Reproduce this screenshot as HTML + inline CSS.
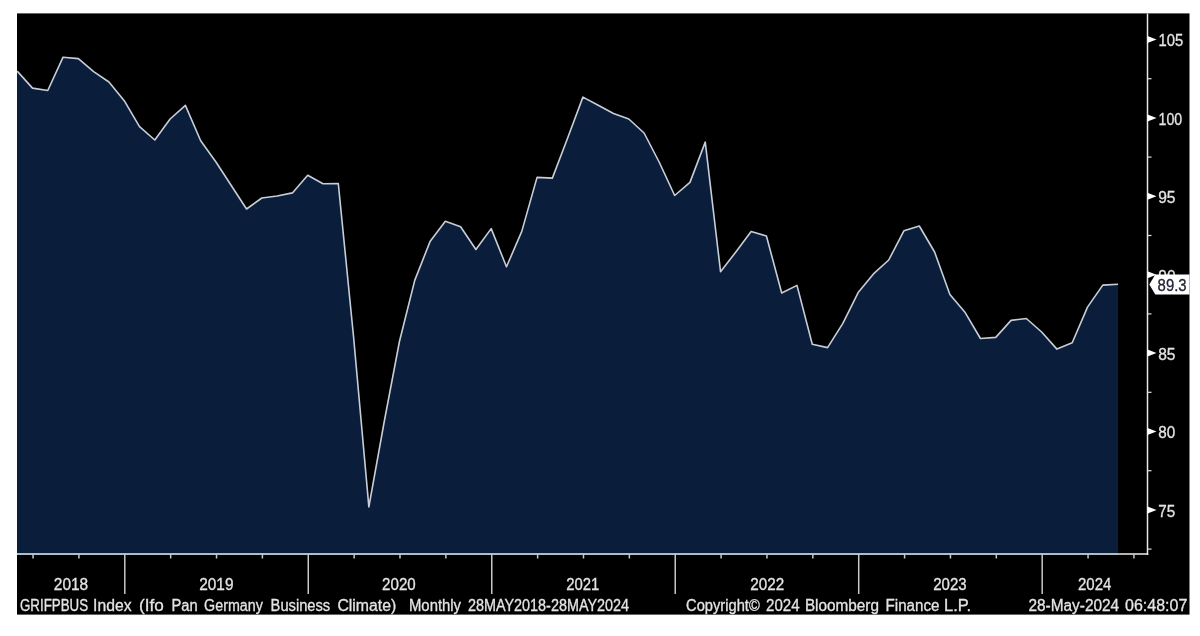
<!DOCTYPE html>
<html><head><meta charset="utf-8"><style>
html,body{margin:0;padding:0;background:#fff;width:1200px;height:636px;overflow:hidden}
svg{display:block;filter:blur(0.45px)}
.t{font-family:"Liberation Sans",sans-serif;font-size:16px;fill:#e4e4e4;stroke:#e4e4e4;stroke-width:0.3px}
</style></head><body>
<svg width="1200" height="636" viewBox="0 0 1200 636">
<rect x="17" y="13.4" width="1172.5" height="601.2" fill="#000"/>
<path d="M17,553 L17,71.10 L17.20,71.10 L32.49,88.10 L47.78,90.50 L63.07,57.20 L78.36,58.60 L93.65,71.60 L108.94,82.00 L124.23,100.70 L139.52,126.60 L154.81,140.00 L170.10,119.00 L185.39,105.40 L200.68,140.70 L215.97,162.00 L231.26,185.50 L246.55,209.00 L261.84,198.00 L277.13,196.00 L292.42,192.90 L307.71,175.30 L323.00,183.80 L338.29,183.50 L353.58,337.00 L368.87,506.90 L384.16,422.00 L399.45,341.50 L414.74,280.40 L430.03,241.60 L445.32,221.20 L460.61,226.70 L475.90,249.50 L491.19,228.60 L506.48,266.80 L521.77,231.40 L537.06,177.40 L552.35,178.10 L567.64,138.00 L582.93,97.10 L598.22,105.30 L613.51,113.50 L628.80,119.00 L644.09,133.00 L659.38,162.50 L674.67,195.50 L689.96,182.40 L705.25,142.10 L720.54,271.70 L735.83,252.00 L751.12,231.60 L766.41,236.00 L781.70,293.00 L796.99,285.40 L812.28,344.30 L827.57,347.60 L842.86,323.40 L858.15,292.60 L873.44,273.90 L888.73,260.00 L904.02,230.70 L919.31,226.00 L934.60,252.00 L949.89,294.40 L965.18,312.60 L980.47,338.50 L995.76,337.40 L1011.05,320.40 L1026.34,318.50 L1041.63,332.00 L1056.92,349.10 L1072.21,342.70 L1087.50,307.10 L1102.79,285.10 L1118.08,284.20 L1118.08,553 Z" fill="#0a1e3b"/>
<polyline points="17.20,71.10 32.49,88.10 47.78,90.50 63.07,57.20 78.36,58.60 93.65,71.60 108.94,82.00 124.23,100.70 139.52,126.60 154.81,140.00 170.10,119.00 185.39,105.40 200.68,140.70 215.97,162.00 231.26,185.50 246.55,209.00 261.84,198.00 277.13,196.00 292.42,192.90 307.71,175.30 323.00,183.80 338.29,183.50 353.58,337.00 368.87,506.90 384.16,422.00 399.45,341.50 414.74,280.40 430.03,241.60 445.32,221.20 460.61,226.70 475.90,249.50 491.19,228.60 506.48,266.80 521.77,231.40 537.06,177.40 552.35,178.10 567.64,138.00 582.93,97.10 598.22,105.30 613.51,113.50 628.80,119.00 644.09,133.00 659.38,162.50 674.67,195.50 689.96,182.40 705.25,142.10 720.54,271.70 735.83,252.00 751.12,231.60 766.41,236.00 781.70,293.00 796.99,285.40 812.28,344.30 827.57,347.60 842.86,323.40 858.15,292.60 873.44,273.90 888.73,260.00 904.02,230.70 919.31,226.00 934.60,252.00 949.89,294.40 965.18,312.60 980.47,338.50 995.76,337.40 1011.05,320.40 1026.34,318.50 1041.63,332.00 1056.92,349.10 1072.21,342.70 1087.50,307.10 1102.79,285.10 1118.08,284.20" fill="none" stroke="#c8ced8" stroke-width="1.6" stroke-linejoin="round"/>
<line x1="17" y1="554" x2="1118.08" y2="554" stroke="#aebcc4" stroke-width="1.8"/>
<line x1="1118.08" y1="554" x2="1148.2" y2="554" stroke="#c8c8c8" stroke-width="1.8"/>
<line x1="1147.5" y1="13.4" x2="1147.5" y2="555" stroke="#e8e8e8" stroke-width="1.5"/>
<line x1="33.05" y1="554" x2="33.05" y2="558.5" stroke="#c8c8c8" stroke-width="1.5"/>
<line x1="78.92" y1="554" x2="78.92" y2="558.5" stroke="#c8c8c8" stroke-width="1.5"/>
<line x1="124.79" y1="554" x2="124.79" y2="594" stroke="#c8c8c8" stroke-width="1.5"/>
<line x1="170.66" y1="554" x2="170.66" y2="558.5" stroke="#c8c8c8" stroke-width="1.5"/>
<line x1="216.53" y1="554" x2="216.53" y2="558.5" stroke="#c8c8c8" stroke-width="1.5"/>
<line x1="262.40" y1="554" x2="262.40" y2="558.5" stroke="#c8c8c8" stroke-width="1.5"/>
<line x1="308.27" y1="554" x2="308.27" y2="594" stroke="#c8c8c8" stroke-width="1.5"/>
<line x1="354.14" y1="554" x2="354.14" y2="558.5" stroke="#c8c8c8" stroke-width="1.5"/>
<line x1="400.01" y1="554" x2="400.01" y2="558.5" stroke="#c8c8c8" stroke-width="1.5"/>
<line x1="445.88" y1="554" x2="445.88" y2="558.5" stroke="#c8c8c8" stroke-width="1.5"/>
<line x1="491.75" y1="554" x2="491.75" y2="594" stroke="#c8c8c8" stroke-width="1.5"/>
<line x1="537.62" y1="554" x2="537.62" y2="558.5" stroke="#c8c8c8" stroke-width="1.5"/>
<line x1="583.49" y1="554" x2="583.49" y2="558.5" stroke="#c8c8c8" stroke-width="1.5"/>
<line x1="629.36" y1="554" x2="629.36" y2="558.5" stroke="#c8c8c8" stroke-width="1.5"/>
<line x1="675.23" y1="554" x2="675.23" y2="594" stroke="#c8c8c8" stroke-width="1.5"/>
<line x1="721.10" y1="554" x2="721.10" y2="558.5" stroke="#c8c8c8" stroke-width="1.5"/>
<line x1="766.97" y1="554" x2="766.97" y2="558.5" stroke="#c8c8c8" stroke-width="1.5"/>
<line x1="812.84" y1="554" x2="812.84" y2="558.5" stroke="#c8c8c8" stroke-width="1.5"/>
<line x1="858.71" y1="554" x2="858.71" y2="594" stroke="#c8c8c8" stroke-width="1.5"/>
<line x1="904.58" y1="554" x2="904.58" y2="558.5" stroke="#c8c8c8" stroke-width="1.5"/>
<line x1="950.45" y1="554" x2="950.45" y2="558.5" stroke="#c8c8c8" stroke-width="1.5"/>
<line x1="996.32" y1="554" x2="996.32" y2="558.5" stroke="#c8c8c8" stroke-width="1.5"/>
<line x1="1042.19" y1="554" x2="1042.19" y2="594" stroke="#c8c8c8" stroke-width="1.5"/>
<line x1="1088.06" y1="554" x2="1088.06" y2="558.5" stroke="#c8c8c8" stroke-width="1.5"/>
<line x1="1133.93" y1="554" x2="1133.93" y2="558.5" stroke="#c8c8c8" stroke-width="1.5"/>
<path d="M1147.5,36.00 L1156.5,39.50 L1147.5,43.00 Z" fill="#ffffff"/>
<path d="M1147.5,114.40 L1156.5,117.90 L1147.5,121.40 Z" fill="#ffffff"/>
<path d="M1147.5,192.80 L1156.5,196.30 L1147.5,199.80 Z" fill="#ffffff"/>
<path d="M1147.5,271.20 L1156.5,274.70 L1147.5,278.20 Z" fill="#ffffff"/>
<path d="M1147.5,349.60 L1156.5,353.10 L1147.5,356.60 Z" fill="#ffffff"/>
<path d="M1147.5,428.00 L1156.5,431.50 L1147.5,435.00 Z" fill="#ffffff"/>
<path d="M1147.5,506.40 L1156.5,509.90 L1147.5,513.40 Z" fill="#ffffff"/>
<line x1="1147.5" y1="78.70" x2="1151.5" y2="78.70" stroke="#e0e0e0" stroke-width="1.2"/>
<line x1="1147.5" y1="157.10" x2="1151.5" y2="157.10" stroke="#e0e0e0" stroke-width="1.2"/>
<line x1="1147.5" y1="235.50" x2="1151.5" y2="235.50" stroke="#e0e0e0" stroke-width="1.2"/>
<line x1="1147.5" y1="313.90" x2="1151.5" y2="313.90" stroke="#e0e0e0" stroke-width="1.2"/>
<line x1="1147.5" y1="392.30" x2="1151.5" y2="392.30" stroke="#e0e0e0" stroke-width="1.2"/>
<line x1="1147.5" y1="470.70" x2="1151.5" y2="470.70" stroke="#e0e0e0" stroke-width="1.2"/>
<line x1="1147.5" y1="549.10" x2="1151.5" y2="549.10" stroke="#e0e0e0" stroke-width="1.2"/>

<text x="20.00" y="610.50" class="t" textLength="68.04" lengthAdjust="spacingAndGlyphs">GRIFPBUS</text>
<text x="93.10" y="610.50" class="t" textLength="38.41" lengthAdjust="spacingAndGlyphs">Index</text>
<text x="139.00" y="610.50" class="t" textLength="24.73" lengthAdjust="spacingAndGlyphs">(Ifo</text>
<text x="171.50" y="610.50" class="t" textLength="26.18" lengthAdjust="spacingAndGlyphs">Pan</text>
<text x="204.10" y="610.50" class="t" textLength="58.80" lengthAdjust="spacingAndGlyphs">Germany</text>
<text x="270.60" y="610.50" class="t" textLength="59.61" lengthAdjust="spacingAndGlyphs">Business</text>
<text x="337.40" y="610.50" class="t" textLength="58.92" lengthAdjust="spacingAndGlyphs">Climate)</text>
<text x="409.00" y="610.50" class="t" textLength="52.02" lengthAdjust="spacingAndGlyphs">Monthly</text>
<text x="468.00" y="610.50" class="t" textLength="161.00" lengthAdjust="spacingAndGlyphs">28MAY2018-28MAY2024</text>
<text x="686.10" y="610.50" class="t" textLength="73.59" lengthAdjust="spacingAndGlyphs">Copyright©</text>
<text x="766.10" y="610.50" class="t" textLength="33.49" lengthAdjust="spacingAndGlyphs">2024</text>
<text x="804.90" y="610.50" class="t" textLength="74.06" lengthAdjust="spacingAndGlyphs">Bloomberg</text>
<text x="885.60" y="610.50" class="t" textLength="53.83" lengthAdjust="spacingAndGlyphs">Finance</text>
<text x="944.00" y="610.50" class="t" textLength="27.17" lengthAdjust="spacingAndGlyphs">L.P.</text>
<text x="1028.50" y="610.50" class="t" textLength="90.69" lengthAdjust="spacingAndGlyphs">28-May-2024</text>
<text x="1125.10" y="610.50" class="t" textLength="62.20" lengthAdjust="spacingAndGlyphs">06:48:07</text>
<text x="53.80" y="590.00" class="t" textLength="34.33" lengthAdjust="spacingAndGlyphs">2018</text>
<text x="199.20" y="590.00" class="t" textLength="34.28" lengthAdjust="spacingAndGlyphs">2019</text>
<text x="382.10" y="590.00" class="t" textLength="33.59" lengthAdjust="spacingAndGlyphs">2020</text>
<text x="566.30" y="590.00" class="t" textLength="33.07" lengthAdjust="spacingAndGlyphs">2021</text>
<text x="750.30" y="590.00" class="t" textLength="33.79" lengthAdjust="spacingAndGlyphs">2022</text>
<text x="933.25" y="590.00" class="t" textLength="33.25" lengthAdjust="spacingAndGlyphs">2023</text>
<text x="1078.00" y="590.00" class="t" textLength="33.28" lengthAdjust="spacingAndGlyphs">2024</text>
<text x="1158.60" y="46.30" class="t" textLength="24.70" lengthAdjust="spacingAndGlyphs">105</text>
<text x="1158.60" y="124.70" class="t" textLength="23.56" lengthAdjust="spacingAndGlyphs">100</text>
<text x="1158.20" y="203.10" class="t" textLength="17.32" lengthAdjust="spacingAndGlyphs">95</text>
<text x="1158.30" y="281.50" class="t" textLength="17.30" lengthAdjust="spacingAndGlyphs">90</text>
<text x="1158.20" y="359.90" class="t" textLength="17.32" lengthAdjust="spacingAndGlyphs">85</text>
<text x="1158.30" y="438.30" class="t" textLength="16.94" lengthAdjust="spacingAndGlyphs">80</text>
<text x="1158.30" y="516.70" class="t" textLength="16.90" lengthAdjust="spacingAndGlyphs">75</text>
<path d="M1149.3,284.6 L1155.3,274.5 L1189.5,274.5 L1189.5,294.6 L1155.3,294.6 Z" fill="#ffffff"/>
<text x="1157.6" y="291.3" class="t" style="fill:#202434;stroke:#202434" textLength="29" lengthAdjust="spacingAndGlyphs">89.3</text>
</svg>
</body></html>
